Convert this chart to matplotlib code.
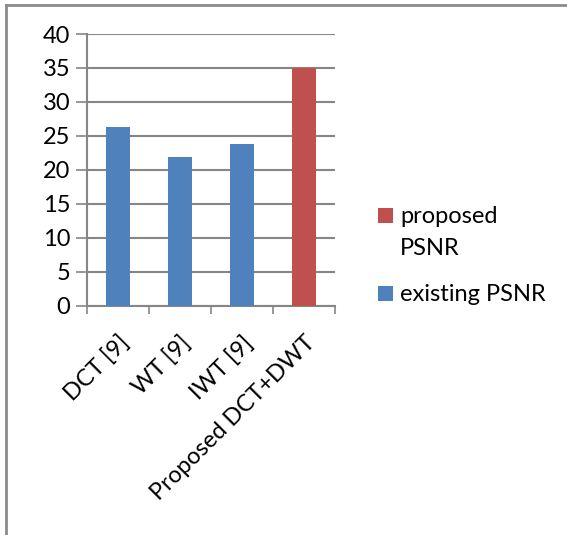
import matplotlib
matplotlib.use("Agg")
import matplotlib.pyplot as plt
from matplotlib.patches import Rectangle
from matplotlib.lines import Line2D

# data
categories = ["DCT [9]", "WT [9]", "IWT [9]", "Proposed DCT+DWT"]
psnr_values = [26.3, 21.9, 23.85, 35.0]
is_proposed = [False, False, False, True]
legend_labels = ["proposed\nPSNR", "existing PSNR"]
y_ticks = [0, 5, 10, 15, 20, 25, 30, 35, 40]

BLUE = "#4F81BD"
RED = "#C0504D"
GRID = "#868686"

plt.rcParams["font.family"] = ["Lato", "DejaVu Sans"]

fig = plt.figure(figsize=(5.67, 5.35), dpi=100)
ax = fig.add_axes([0.1534, 0.4286, 0.4374, 0.5078])

x = list(range(len(categories)))
colors = [RED if p else BLUE for p in is_proposed]
ax.bar(x, psnr_values, width=0.4, color=colors, zorder=3)

ax.set_xlim(-0.5, len(categories) - 0.5)
ax.set_ylim(0, 40)
ax.set_yticks(y_ticks)
ax.yaxis.grid(True, color=GRID, linewidth=1.5, zorder=0)
ax.tick_params(axis="y", length=8, width=1.2, color=GRID, labelsize=17, pad=4)

# category labels at centres, tick marks at the boundaries
ax.set_xticks(x)
ax.set_xticklabels(categories, rotation=45, ha="right", va="top",
                   rotation_mode="anchor", fontsize=17)
ax.tick_params(axis="x", which="major", length=0, pad=19)
ax.set_xticks([i - 0.5 for i in range(len(categories) + 1)], minor=True)
ax.tick_params(axis="x", which="minor", length=6, width=1.2, color=GRID)

for s in ["top", "right"]:
    ax.spines[s].set_visible(False)
for s in ["left", "bottom"]:
    ax.spines[s].set_color(GRID)
    ax.spines[s].set_linewidth(1.5)

# legend, Excel style: swatch beside the first line of each entry
legend_colors = [RED, BLUE]
legend_base = [0.5832, 0.4374]
line_step = 0.0598
for lab, col, yb in zip(legend_labels, legend_colors, legend_base):
    fig.add_artist(Rectangle((0.6667, yb), 0.0265, 0.028, facecolor=col,
                             edgecolor="none", transform=fig.transFigure))
    for k, line in enumerate(lab.split("\n")):
        fig.text(0.7055, yb - k * line_step, line, fontsize=17,
                 va="baseline", ha="left")

# page border from the source document
fig.add_artist(Line2D([0.011, 0.011], [0.0, 0.991], color="#8c8c8c",
                      linewidth=2, transform=fig.transFigure))
fig.add_artist(Line2D([0.011, 1.0], [0.991, 0.991], color="#8c8c8c",
                      linewidth=2, transform=fig.transFigure))

plt.savefig("out.png", dpi=100)
